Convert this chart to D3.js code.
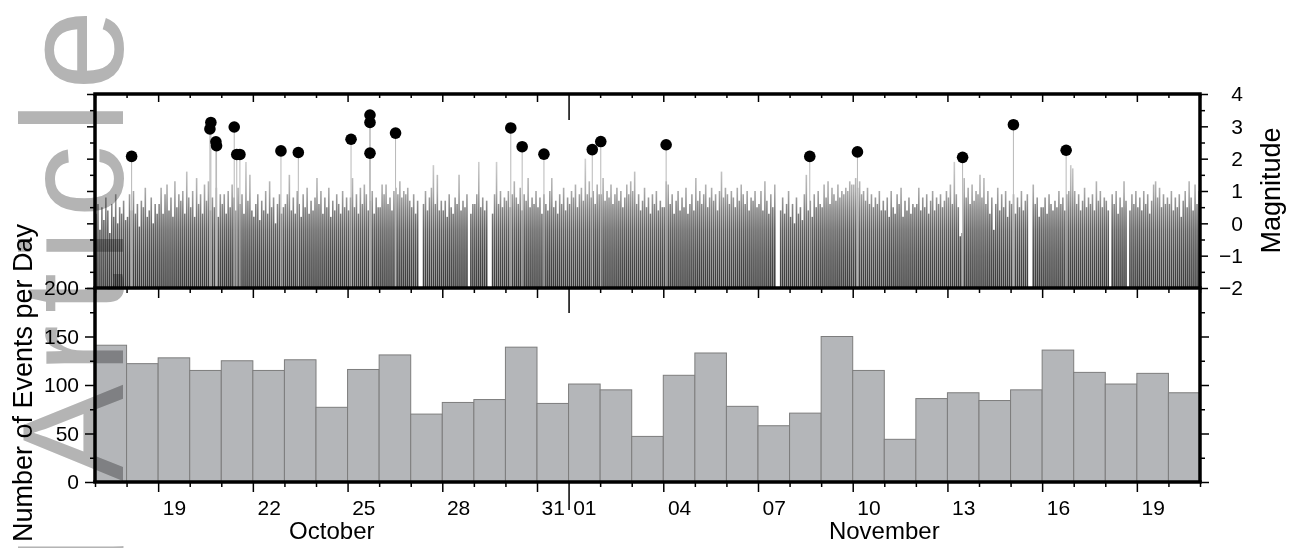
<!DOCTYPE html>
<html lang="en">
<head>
<meta charset="UTF-8">
<title>Events per day</title>
<script src="https://d3js.org/d3.v7.min.js"></script>
<style>
  body { margin: 0; background: #fff; }
  svg { display: block; font-family: 'Liberation Sans', Arial, Helvetica, sans-serif; }
</style>
</head>
<body>
<svg width="1296" height="548" id="mainsvg"></svg>
<script>
// all times are in days counted from 17 October (day 0)
const dayCounts = [141, 122, 128, 115, 125, 115, 126, 77, 116, 131, 70, 82, 85, 139, 81, 101, 95,
  47, 110, 133, 78, 58, 71, 150, 115, 44, 86, 92, 84, 95, 136, 113, 101, 112, 92];

// magnitude of the strongest event in each 1.5 h slot of a day (x = no event)
const stemSlots = [
  '0.3 0.6 -0.2 0.5 0.1 0.8 0.4 -0.3 0.6 0.2 0.9 0.0 0.5 0.3 0.7 0.1',
  '0.2 0.9 0.4 1.0 0.3 0.6 -0.1 0.7 0.5 1.1 0.2 0.4 0.8 0.0 0.6 0.3',
  '0.6 1.1 0.3 0.9 1.2 0.4 0.8 0.2 1.3 0.5 0.9 0.7 1.0 0.3 1.6 0.8',
  '0.5 1.0 0.2 1.4 0.6 0.9 0.3 1.2 0.7 1.3 0.4 0.8 0.5 1.1 0.2 0.9',
  '0.6 0.9 0.3 1.0 0.5 1.2 0.8 0.4 1.1 0.6 0.9 0.3 1.9 0.7 1.5 0.4',
  '0.2 0.6 0.9 0.1 0.7 0.4 1.0 0.3 1.3 0.5 0.8 0.0 0.6 0.9 0.3 0.5',
  '0.6 0.9 1.5 0.4 0.8 0.3 1.0 0.6 0.2 0.9 0.5 1.1 0.3 0.7 0.4 0.8',
  '1.4 0.6 1.0 0.3 0.8 0.5 1.1 0.2 0.7 0.4 0.9 0.6 0.3 1.0 0.5 0.8',
  '0.4 0.8 1.4 0.5 0.9 0.3 1.1 0.6 1.2 0.9 0.4 0.7 1.0 0.3 0.8 0.5',
  '0.5 1.2 0.9 1.2 0.6 0.8 0.4 1.0 1.1 0.9 1.3 0.8 1.0 0.9 1.1 0.7',
  '0.5 0.9 0.3 0.7 x x 0.6 1.0 0.4 0.8 1.1 1.8 0.6 1.5 0.4 0.7',
  '0.4 0.7 0.2 0.9 0.5 0.3 0.8 0.6 1.5 0.4 0.7 0.5 0.9 x 0.3 0.6',
  '0.6 0.9 1.9 0.5 0.8 0.4 0.7 x x 0.3 0.9 1.9 0.6 1.0 0.5 0.8',
  '0.7 1.0 0.5 0.9 1.3 0.8 0.6 1.1 0.4 0.9 0.7 1.4 0.5 0.8 0.6 1.0',
  '0.5 0.8 0.3 0.9 0.6 0.4 1.0 1.4 0.5 0.7 0.3 0.9 0.6 1.1 0.4 0.8',
  '0.6 1.0 0.8 1.2 0.5 0.9 1.1 0.7 2.0 0.9 1.3 0.8 1.0 0.6 1.2 0.9',
  '0.9 1.4 0.7 1.0 0.8 1.2 0.6 0.9 1.1 0.7 1.0 0.5 0.8 1.2 0.9 1.3',
  '1.0 1.6 0.6 0.9 0.4 0.7 1.1 0.5 0.8 0.3 0.9 0.6 1.0 0.4 0.7 0.5',
  '0.5 1.3 1.2 0.6 0.9 0.3 0.7 1.0 0.4 0.8 0.5 1.1 0.3 0.6 0.9 0.4',
  '1.4 0.7 1.0 0.6 0.9 1.2 0.5 0.8 1.1 0.7 0.9 0.4 1.0 1.6 0.8 1.1',
  '0.9 0.6 1.0 0.8 0.5 1.1 0.7 1.2 0.9 0.6 1.0 0.4 0.8 0.7 1.0 0.5',
  '0.6 1.0 0.4 1.3 0.7 0.3 0.9 0.5 1.2 x x 0.4 0.8 0.3 0.6 1.0',
  '0.2 0.6 0.0 0.8 0.3 0.5 0.1 0.9 1.5 0.4 0.7 0.2 0.9 0.5 1.0 0.6',
  '0.5 1.2 0.8 1.3 0.6 1.1 0.9 0.7 1.2 0.8 1.0 0.9 1.1 1.0 1.3 1.2',
  '1.2 1.4 1.1 1.3 0.9 1.0 0.7 1.1 0.6 0.9 0.5 0.8 0.6 1.0 0.4 0.7',
  '0.4 0.8 0.2 1.0 0.5 0.3 0.9 0.6 1.1 0.2 0.7 0.4 0.8 0.3 0.6 0.5',
  '0.6 1.1 0.4 0.8 0.5 0.9 0.3 0.7 1.0 0.4 0.8 0.6 0.9 0.5 0.7 1.0',
  '0.8 1.2 0.6 1.9 0.9 0.5 -0.4 -0.3 1.4 0.8 1.1 0.6 1.2 0.7 1.0 0.9',
  '1.5 0.8 1.4 0.6 1.0 0.3 0.8 -0.2 0.6 1.1 0.4 0.9 0.5 1.0 0.2 0.7',
  '0.6 0.9 0.3 0.8 0.5 1.0 0.4 0.7 0.9 x x 1.2 0.6 0.8 0.2 0.5',
  '0.5 0.8 0.3 0.9 0.6 0.4 0.7 0.5 1.0 0.6 0.8 0.4 0.9 1.0 1.8 1.7',
  '1.0 0.6 0.9 0.4 0.7 1.1 0.5 0.8 0.6 0.9 0.4 1.3 0.7 1.0 0.5 0.8',
  '0.7 0.4 x 0.9 0.6 1.0 0.3 0.8 0.5 1.3 0.7 x 0.4 0.9 0.6 1.0',
  '0.5 0.8 0.4 1.0 0.6 0.9 0.3 0.7 1.2 1.3 0.8 1.1 0.5 0.9 0.6 0.8',
  '0.6 1.0 0.4 0.8 0.5 0.9 0.2 0.7 1.0 0.5 1.3 0.8 0.4 1.2 0.6 1.0'
];

// events of magnitude 2 and above: [day, magnitude]
const bigEvents = [
  [1.16, 2.07], [3.64, 2.92], [3.67, 3.12], [3.83, 2.52], [3.85, 2.40], [4.41, 2.98],
  [4.49, 2.13], [4.59, 2.13], [5.89, 2.24], [6.44, 2.19], [8.11, 2.60], [8.71, 3.35],
  [8.71, 3.12], [8.71, 2.17], [9.52, 2.79], [13.17, 2.95], [13.53, 2.37], [14.22, 2.14],
  [15.75, 2.28], [16.02, 2.53], [18.09, 2.43], [22.64, 2.07], [24.15, 2.21], [27.48, 2.04],
  [29.09, 3.05], [30.76, 2.26]
];

const dayTickIndex = [2, 5, 8, 11, 14, 15, 18, 21, 24, 27, 30, 33];
const dayTickLabels = ['19', '22', '25', '28', '31', '01', '04', '07', '10', '13', '16', '19'];
const monthNames = ['October', 'November'];
const monthStart = [0, 15];
const monthEnd = [15, 35];
const magTicks = [-2, -1, 0, 1, 2, 3, 4];
const countTicks = [0, 50, 100, 150, 200];

const svg = d3.select('#mainsvg');
const plotLeft = 95, plotRight = 1200, plotTop = 94, plotMid = 288, plotBottom = 482;

const x = d3.scaleLinear().domain([0, dayCounts.length]).range([plotLeft, plotRight]);
const yMag = d3.scaleLinear().domain([-2, 4]).range([plotMid, plotTop]);
const yCnt = d3.scaleLinear().domain([0, 200]).range([plotBottom, plotMid]);

// gradient along the stems: dense part dark, tips light
const grad = svg.append('defs').append('linearGradient')
  .attr('id', 'stemGrad').attr('gradientUnits', 'userSpaceOnUse')
  .attr('x1', 0).attr('x2', 0).attr('y1', yMag(-2)).attr('y2', yMag(2));
[[0, '#3a3a3a'], [0.25, '#4a4a4a'], [0.45, '#606060'], [0.6, '#808080'], [0.75, '#aaaaaa'], [1, '#d2d2d2']]
  .forEach(s => grad.append('stop').attr('offset', s[0]).attr('stop-color', s[1]));

// stems
const stems = [];
stemSlots.forEach((s, i) => {
  const vals = s.split(' ');
  vals.forEach((v, j) => {
    if (v !== 'x') stems.push({ t: i + (j + 0.5) / vals.length, m: +v });
  });
});
svg.append('g').selectAll('line').data(stems).join('line')
  .attr('x1', d => x(d.t)).attr('x2', d => x(d.t))
  .attr('y1', yMag(-2)).attr('y2', d => yMag(d.m))
  .attr('stroke', 'url(#stemGrad)').attr('stroke-width', 1.6);

// big events
svg.append('g').selectAll('line').data(bigEvents).join('line')
  .attr('x1', d => x(d[0])).attr('x2', d => x(d[0]))
  .attr('y1', yMag(-2)).attr('y2', d => yMag(d[1]))
  .attr('stroke', '#b8b8b8').attr('stroke-width', 1);
svg.append('g').selectAll('circle').data(bigEvents).join('circle')
  .attr('cx', d => x(d[0])).attr('cy', d => yMag(d[1])).attr('r', 5.8)
  .attr('fill', '#000');

// daily counts
svg.append('g').selectAll('rect').data(dayCounts).join('rect')
  .attr('x', (d, i) => x(i)).attr('width', x(1) - x(0))
  .attr('y', d => yCnt(d)).attr('height', d => yCnt(0) - yCnt(d))
  .attr('fill', '#b4b6b9').attr('stroke', '#7d7d7d').attr('stroke-width', 1);

// ticks
const tickStyle = g => {
  g.select('.domain').remove();
  g.selectAll('line').attr('stroke', '#000').attr('stroke-width', 1.5);
  g.selectAll('text').attr('font-size', 21).attr('fill', '#000')
    .attr('font-family', "'Liberation Sans', Arial, sans-serif");
};
const allDays = d3.range(0, dayCounts.length + 1);
const minorDays = allDays.filter(d => !dayTickIndex.includes(d));
const majorDays = dayTickIndex.filter(d => !monthStart.includes(d));

[plotMid, plotBottom].forEach(yy => {
  svg.append('g').attr('transform', `translate(0,${yy})`)
    .call(d3.axisBottom(x).tickValues(minorDays).tickSize(5).tickFormat('')).call(tickStyle);
  svg.append('g').attr('transform', `translate(0,${yy})`)
    .call(d3.axisBottom(x).tickValues(majorDays).tickSize(10).tickFormat('')).call(tickStyle);
  svg.append('g').attr('transform', `translate(0,${yy})`)
    .call(d3.axisBottom(x).tickValues(monthStart.slice(1)).tickSize(yy === plotMid ? 25 : 28).tickFormat(''))
    .call(tickStyle);
});
// top frame, ticks inside
svg.append('g').attr('transform', `translate(0,${plotTop})`)
  .call(d3.axisTop(x).tickValues(minorDays).tickSize(-4).tickFormat('')).call(tickStyle);
svg.append('g').attr('transform', `translate(0,${plotTop})`)
  .call(d3.axisTop(x).tickValues(majorDays).tickSize(-8).tickFormat('')).call(tickStyle);
svg.append('g').attr('transform', `translate(0,${plotTop})`)
  .call(d3.axisTop(x).tickValues(monthStart.slice(1)).tickSize(-26).tickFormat('')).call(tickStyle);

// day labels
svg.append('g').attr('transform', `translate(0,${plotBottom})`)
  .call(d3.axisBottom(x).tickValues(dayTickIndex.map(d => d + 0.5))
    .tickFormat((d, i) => dayTickLabels[i]).tickSize(0).tickPadding(18))
  .call(tickStyle);

// month labels
svg.append('g').selectAll('text').data(monthNames).join('text')
  .attr('x', (d, i) => x((monthStart[i] + monthEnd[i]) / 2)).attr('y', 539)
  .attr('text-anchor', 'middle').attr('font-size', 24).text(d => d);

// magnitude axes
const halfMags = d3.range(-1.5, 4, 1);
svg.append('g').attr('transform', `translate(${plotRight},0)`)
  .call(d3.axisRight(yMag).tickValues(magTicks).tickSize(8).tickFormat(d3.format('d')))
  .call(tickStyle)
  .call(g => g.selectAll('text').attr('text-anchor', 'end').attr('x', 43));
svg.append('g').attr('transform', `translate(${plotRight},0)`)
  .call(d3.axisRight(yMag).tickValues(halfMags).tickSize(5).tickFormat('')).call(tickStyle);
svg.append('g').attr('transform', `translate(${plotLeft},0)`)
  .call(d3.axisLeft(yMag).tickValues(magTicks).tickSize(8).tickFormat('')).call(tickStyle);
svg.append('g').attr('transform', `translate(${plotLeft},0)`)
  .call(d3.axisLeft(yMag).tickValues(halfMags).tickSize(5).tickFormat('')).call(tickStyle);

// count axes
const minorCounts = d3.range(25, 200, 50);
svg.append('g').attr('transform', `translate(${plotLeft},0)`)
  .call(d3.axisLeft(yCnt).tickValues(countTicks).tickSize(10).tickPadding(6)).call(tickStyle);
svg.append('g').attr('transform', `translate(${plotLeft},0)`)
  .call(d3.axisLeft(yCnt).tickValues(minorCounts).tickSize(5).tickFormat('')).call(tickStyle);
svg.append('g').attr('transform', `translate(${plotRight},0)`)
  .call(d3.axisRight(yCnt).tickValues(countTicks.slice(0, -1)).tickSize(9).tickFormat('')).call(tickStyle);
svg.append('g').attr('transform', `translate(${plotRight},0)`)
  .call(d3.axisRight(yCnt).tickValues(minorCounts).tickSize(5).tickFormat('')).call(tickStyle);

// frame
const frame = svg.append('g').attr('stroke', '#000').attr('stroke-width', 3.5);
[plotTop, plotMid, plotBottom].forEach(yy => frame.append('line')
  .attr('x1', plotLeft - 1.75).attr('x2', plotRight + 1.75).attr('y1', yy).attr('y2', yy));
[plotLeft, plotRight].forEach(xx => frame.append('line')
  .attr('x1', xx).attr('x2', xx).attr('y1', plotTop).attr('y2', plotBottom));

// axis titles
svg.append('text').attr('transform', `translate(32,${(223 + 543) / 2}) rotate(-90)`)
  .attr('text-anchor', 'middle').attr('font-size', 27).text('Number of Events per Day');
svg.append('text').attr('transform', `translate(1280,${(128 + 253) / 2}) rotate(-90)`)
  .attr('text-anchor', 'middle').attr('font-size', 27).text('Magnitude');

// watermark
svg.append('text').attr('transform', 'translate(123,-2) rotate(-90)')
  .attr('text-anchor', 'end').attr('font-size', 145).attr('letter-spacing', 11.5)
  .attr('fill', '#b4b4b4').style('mix-blend-mode', 'multiply')
  .text('Accepted Article');
</script>
</body>
</html>
